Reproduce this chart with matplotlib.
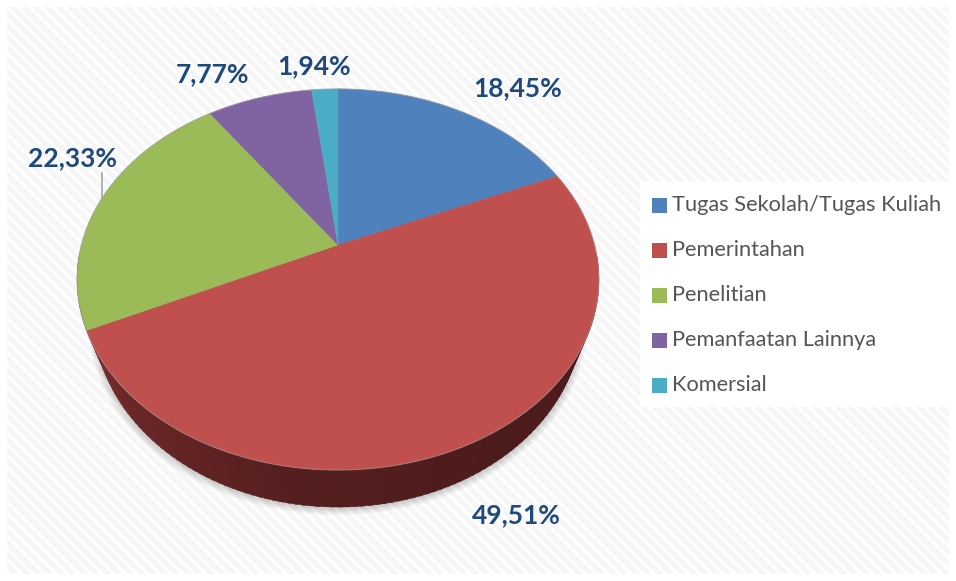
import numpy as np
import matplotlib
matplotlib.use('Agg')
import matplotlib.pyplot as plt
from matplotlib.patches import Rectangle

categories = ['Tugas Sekolah/Tugas Kuliah', 'Pemerintahan', 'Penelitian',
              'Pemanfaatan Lainnya', 'Komersial']
values = [18.45, 49.51, 22.33, 7.77, 1.94]
value_labels = ['18,45%', '49,51%', '22,33%', '7,77%', '1,94%']
colors = ['#4f81bd', '#c0504d', '#9bbb59', '#8064a2', '#4bacc6']
label_pos = [(518, 88), (516, 515), (73, 158), (213, 74), (314, 66)]

W, H = 956, 581
CX, CY = 338, 245
A, B, K = 256.6, 184.3, 0.181
DEPTH = 37
WALL_SCALE = 0.935


def project(theta, r=1.0, scale=1.0, dy=0.0):
    # theta in radians, clockwise from the top of the pie
    u = r * np.sin(theta)
    v = r * np.cos(theta)
    w = 1 + K * v
    return CX + scale * A * u / w, CY + dy - B * v / w


plt.rcParams['font.family'] = ['Lato', 'DejaVu Sans']
fig = plt.figure(figsize=(W / 100, H / 100), dpi=100, facecolor='white')
ax = fig.add_axes([0, 0, 1, 1])
ax.set_xlim(0, W)
ax.set_ylim(H, 0)
ax.axis('off')

# striped background
bg = Rectangle((7, 7), W - 14, H - 14, fc='white', ec='none', zorder=0)
ax.add_patch(bg)
for off in np.arange(-H, W, 11.5):
    ln, = ax.plot([off, off + H], [0, H], color='#f6f6f6', lw=3.6, zorder=0.5,
                  solid_capstyle='butt')
    ln.set_clip_path(bg)

# legend box
ax.add_patch(Rectangle((640, 182), 310, 225, fc='white', ec='none', zorder=1))

# soft shadow under the pie
th = np.linspace(0, 2 * np.pi, 400)
for i in range(10):
    sx, sy = project(th, scale=WALL_SCALE + 0.0022 * i, dy=DEPTH + 0.8 * i)
    ax.fill(sx, sy + 1, color='#000000', alpha=0.02, lw=0, zorder=1.5)

# side wall, shaded by segments
edges = np.linspace(np.pi / 2 + 0.05, 3 * np.pi / 2 - 0.05, 120)
stops = [0, 0.3, 0.55, 0.8, 1]
wall_r = [0x52, 0x4c, 0x55, 0x6e, 0x8c]
wall_g = [0x1e, 0x1b, 0x1f, 0x28, 0x38]
wall_b = [0x1e, 0x1b, 0x1f, 0x28, 0x36]
for i in range(len(edges) - 1):
    t = np.linspace(edges[i], edges[i + 1] + 0.01, 4)
    x1, y1 = project(t)
    x2, y2 = project(t[::-1], scale=WALL_SCALE, dy=DEPTH)
    f = i / (len(edges) - 2)
    col = (np.interp(f, stops, wall_r) / 255, np.interp(f, stops, wall_g) / 255,
           np.interp(f, stops, wall_b) / 255)
    ax.fill(np.r_[x1, x2], np.r_[y1, y2], color=col, lw=0.3, zorder=2)

# top face
start = 0.0
for val, col in zip(values, colors):
    end = start + val / sum(values) * 2 * np.pi
    t = np.linspace(start, end, 200)
    x, y = project(t)
    ax.fill(np.r_[CX, x], np.r_[CY, y], color=col, lw=0.3, zorder=3)
    start = end
ex, ey = project(th)
ax.plot(ex, ey, color='#a09a9a', lw=0.8, alpha=0.6, zorder=3.5)

# leader line of the green slice
ax.plot([102, 102], [173, 199], color='#a6a6a6', lw=1.2, zorder=2.5)

for txt, (lx, ly) in zip(value_labels, label_pos):
    ax.text(lx, ly, txt, color='#1f497d', fontsize=19, fontweight='bold',
            ha='center', va='center', zorder=4)

# legend
for i, (name, col) in enumerate(zip(categories, colors)):
    yy = 205 + i * 45
    ax.add_patch(Rectangle((652, yy - 7.5), 15, 15, fc=col, ec='none', zorder=4))
    ax.text(672, yy, name, color='#555555', fontsize=15.7, ha='left',
            va='center', zorder=4)

fig.savefig('out.png', dpi=100)
